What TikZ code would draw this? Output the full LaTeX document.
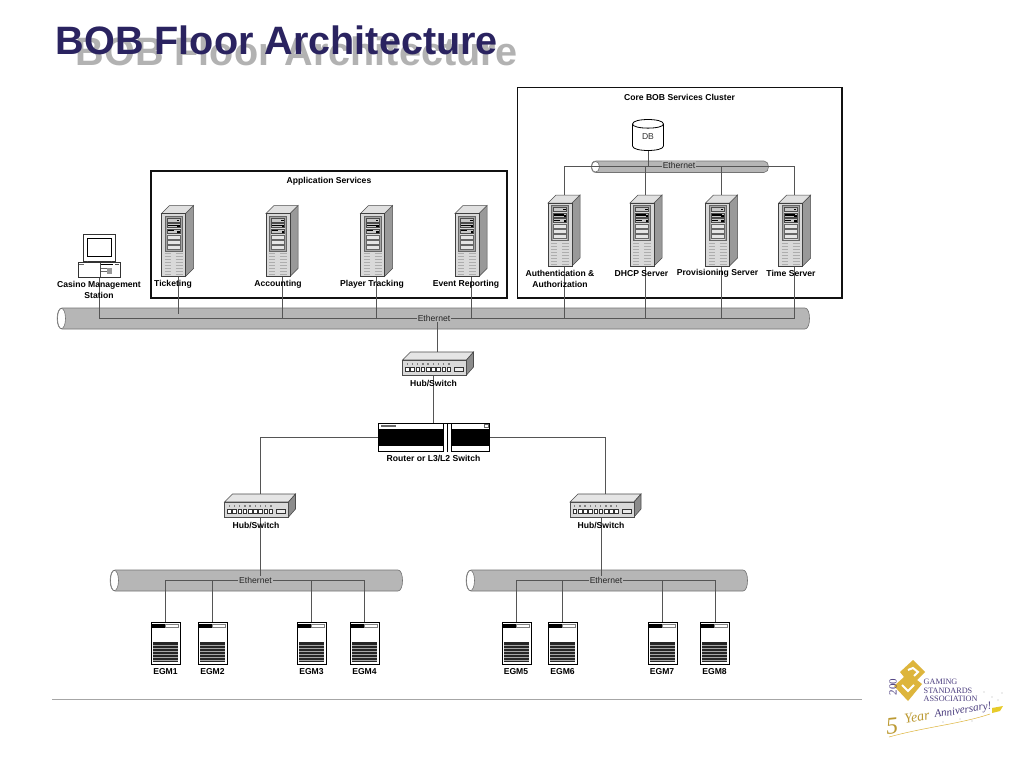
\documentclass[tikz,border=0pt]{standalone}
\usepackage{fontspec}
\setmainfont{Liberation Sans}
\newfontfamily\logoserif{Liberation Serif}
\definecolor{titleblue}{HTML}{2A2360}
\definecolor{titleshade}{HTML}{B2B2B2}
\definecolor{busgray}{HTML}{B6B6B6}
\definecolor{wiregray}{HTML}{555555}
\definecolor{boxline}{HTML}{111111}
\definecolor{logogold}{HTML}{DDB53C}
\definecolor{logopurple}{HTML}{4A3C7E}
\tikzset{
  x=1pt,y=-1pt,
  wire/.style={draw=wiregray,line width=0.7pt},
  clusterbox/.style={draw=boxline,line width=1.6pt,outer sep=0pt},
  lab/.style={font=\fontsize{8.6}{10}\selectfont\bfseries,text=black,inner sep=0pt,align=center},
  ethlab/.style={font=\fontsize{8.6}{10}\selectfont,text=black!85,inner sep=1pt,fill=busgray},
  busbody/.style={draw=black!55,line width=0.6pt,fill=busgray},
  server/.pic={
    \filldraw[draw=black!70,line width=.5pt,fill=black!40] (24,8)--(32,0)--(32,63)--(24,71)--cycle;
    \filldraw[draw=black!70,line width=.5pt,fill=black!12] (0,8)--(8,0)--(32,0)--(24,8)--cycle;
    \filldraw[draw=black!75,line width=.6pt,fill=black!15] (0,8) rectangle (24,71);
    \filldraw[draw=black!60,line width=.5pt,fill=black!35] (3.5,10.5) rectangle (20.5,45.5);
    \fill[white!85!black] (5,12) rectangle (19,44.5);
    \foreach \yy in {12.5,18,23.5}{\filldraw[draw=black!70,line width=.3pt,fill=black!22] (5.5,\yy) rectangle (18.5,\yy+4);}
    \fill[black] (6,19) rectangle (16,20.5);
    \fill[black] (6,24.5) rectangle (12,25.5);
    \fill[black] (15,14) rectangle (17.5,15);
    \fill[black] (15.5,25) rectangle (18,27);
    \fill[black] (15.5,19.5) rectangle (18,21.5);
    \foreach \yy in {29.5,34.5,39.5}{\draw[black!60,line width=.4pt,fill=white!90!black] (5.5,\yy) rectangle (18.5,\yy+3.8);}
    \foreach \yy in {48,51,...,69}{
      \draw[black!32,line width=.4pt] (3,\yy)--(9,\yy);
      \draw[black!32,line width=.4pt] (14,\yy)--(21,\yy);
    }
  },
  hubswitch/.pic={
    \filldraw[draw=black!70,line width=.6pt,fill=black!10] (8,0)--(71,0)--(64,8)--(0,8)--cycle;
    \filldraw[draw=black!70,line width=.6pt,fill=black!45] (64,8)--(71,0)--(71,15)--(64,23)--cycle;
    \filldraw[draw=black!70,line width=.6pt,fill=black!15] (0,8) rectangle (64,23);
    \foreach \i in {0,...,8}{
      \draw[black!80,line width=.6pt,fill=white] (3+\i*5.2,15.5) rectangle (6.6+\i*5.2,19.5);
      \fill[black!50] (4+\i*5.2,11) rectangle (5.4+\i*5.2,12.5);
    }
    \draw[black!80,line width=.5pt,fill=black!8] (52,15.5) rectangle (61,19.5);
  },
  egmbox/.pic={
    \filldraw[draw=black,line width=.9pt,fill=white] (0,0) rectangle (29,42);
    \fill[black] (1,2) rectangle (14.5,5.5);
    \draw[black!50,line width=.4pt] (14.5,2) rectangle (27.5,5.5);
    \fill[black!85] (2,20) rectangle (27,39.5);
    \foreach \yy in {23,26,...,38}{\draw[black!35,line width=.5pt] (2,\yy)--(27,\yy);}
  },
}
\begin{document}
\begin{tikzpicture}
\useasboundingbox (0,0) rectangle (1024,768);
\fill[white] (0,0) rectangle (1024,768);

% title
\node[anchor=base west,inner sep=0pt,font=\fontsize{39.6}{41}\selectfont\bfseries,text=titleshade] (titleshadow) at (75.5,65.5) {BOB Floor Architecture};
\node[anchor=base west,inner sep=0pt,font=\fontsize{39.6}{41}\selectfont\bfseries,text=titleblue] (title) at (55.5,54.5) {BOB Floor Architecture};

% buses
\newcommand{\busdraw}[5]{%
  \draw[busbody] (#2+5,#3) -- (#4-5,#3) .. controls (#4+1,#3) and (#4+1,#5) .. (#4-5,#5) -- (#2+5,#5) .. controls (#2-1.5,#5) and (#2-1.5,#3) .. (#2+5,#3) -- cycle;
  \draw[draw=black!55,line width=.6pt,fill=white] (#2+4.5,#3/2+#5/2) ellipse [x radius=4,y radius={(#5-#3)/2-.4}];
  \coordinate (#1) at (#2/2+#4/2,#3/2+#5/2);
}
\busdraw{mainbus}{57}{308}{810}{329}
\busdraw{corebus}{591}{161}{769}{172.5}
\busdraw{leftbus}{110}{570}{403}{591}
\busdraw{rightbus}{466}{570}{748}{591}

% cluster boxes
\node[clusterbox,anchor=north west,inner sep=0pt,minimum width=356pt,minimum height=127pt] (appbox) at (151,171) {};
\node[clusterbox,anchor=north west,inner sep=0pt,minimum width=324.5pt,minimum height=210.5pt] (corebox) at (517.5,87.5) {};

% device anchors
\coordinate (pc) at (99,277);
\coordinate (ticketing) at (178,277);
\coordinate (accounting) at (282,277);
\coordinate (tracking) at (376.5,277);
\coordinate (reporting) at (471,277);
\coordinate (auth) at (564,266);
\coordinate (dhcp) at (645.7,266);
\coordinate (prov) at (721,266);
\coordinate (timesrv) at (794.7,266);
\coordinate (wireL) at (99,318.5);
\coordinate (wireR) at (794.7,318.5);
\coordinate (coreL) at (564,166.7);
\coordinate (coreR) at (794.7,166.7);
\coordinate (ticketend) at (178,314);
\coordinate (routerleft) at (378,437);
\coordinate (routerright) at (489,437);
\coordinate (routertop) at (433.5,423);
\coordinate (hubtopin) at (437.5,352);
\coordinate (hubout) at (433.5,376);
\coordinate (lefthubtop) at (260,494);
\coordinate (righthubtop) at (605,494);
\coordinate (lefthubout) at (260,517);
\coordinate (righthubout) at (601,517);
\coordinate (dbout) at (648.5,150);
\coordinate (leftrail) at (364,580);
\coordinate (rightrail) at (715,580);
\coordinate (egmtop1) at (165.7,622);
\coordinate (egmtop2) at (212.5,622);
\coordinate (egmtop3) at (311,622);
\coordinate (egmtop4) at (364,622);
\coordinate (egmtop5) at (516,622);
\coordinate (egmtop6) at (562,622);
\coordinate (egmtop7) at (662,622);
\coordinate (egmtop8) at (715,622);
\coordinate (authtop) at (564,195);
\coordinate (dhcptop) at (645.7,195);
\coordinate (provtop) at (721,195);
\coordinate (timetop) at (794.7,195);

% wires
\draw[wire] (wireL) -- (wireR);
\draw[wire] (pc) -- (wireL);
\draw[wire] (ticketing) -- (ticketend);
\draw[wire] (accounting) -- (accounting |- wireL);
\draw[wire] (tracking) -- (tracking |- wireL);
\draw[wire] (reporting) -- (reporting |- wireL);
\draw[wire] (auth) -- (auth |- wireL);
\draw[wire] (dhcp) -- (dhcp |- wireL);
\draw[wire] (prov) -- (prov |- wireL);
\draw[wire] (timesrv) -- (timesrv |- wireL);
\draw[wire] (coreL) -- (coreR);
\draw[wire] (authtop) -- (authtop |- coreL);
\draw[wire] (dhcptop) -- (dhcptop |- coreL);
\draw[wire] (provtop) -- (provtop |- coreL);
\draw[wire] (timetop) -- (timetop |- coreL);
\draw[wire] (dbout) -- (dbout |- coreL);
\draw[wire] (hubtopin) -- (hubtopin |- wireL);
\draw[wire] (hubout) -- (routertop);
\draw[wire] (routerleft) -| (lefthubtop);
\draw[wire] (routerright) -| (righthubtop);
\draw[wire] (lefthubout) -- (lefthubout |- leftbus);
\draw[wire] (righthubout) -- (righthubout |- rightbus);
\draw[wire] (egmtop1) |- (leftrail);
\draw[wire] (egmtop2) -- (egmtop2 |- leftrail);
\draw[wire] (egmtop3) -- (egmtop3 |- leftrail);
\draw[wire] (egmtop4) -- (leftrail);
\draw[wire] (egmtop5) |- (rightrail);
\draw[wire] (egmtop6) -- (egmtop6 |- rightrail);
\draw[wire] (egmtop7) -- (egmtop7 |- rightrail);
\draw[wire] (egmtop8) -- (rightrail);

% ethernet labels
\node[ethlab] (ethmain) at (434,318) {Ethernet};
\node[ethlab] (ethcore) at (679,165.5) {Ethernet};
\node[ethlab] (ethleft) at (255.5,580) {Ethernet};
\node[ethlab] (ethright) at (606,580) {Ethernet};

% servers
\pic (s1) at (161.5,205.5) {server};
\pic (s2) at (266,205.5) {server};
\pic (s3) at (360.5,205.5) {server};
\pic (s4) at (455,205.5) {server};
\pic (s5) at (548,195) {server};
\pic (s6) at (630,195) {server};
\pic (s7) at (705.5,195) {server};
\pic (s8) at (778.7,195) {server};

% PC
\filldraw[draw=black!80,line width=.7pt,fill=white] (83,234.5) rectangle (115,261);
\filldraw[draw=black,line width=1pt,fill=white] (87,238) rectangle (111,256.5);
\draw[black!70,line width=.6pt] (87,261) -- (87,262) -- (111,262) -- (111,261);
\filldraw[draw=black!80,line width=.7pt,fill=white] (78,262) rectangle (120.5,277);
\fill[black!60] (79,263.5) rectangle (84,264.5);
\draw[black!70,line width=.5pt] (100,263) -- (100,276.5);
\fill[black] (100.5,263.5) rectangle (113,265);
\fill[black!70] (115,263.5) rectangle (119,265);
\draw[black!60,line width=.4pt] (101,268) -- (111,268) (101,271) -- (111,271);
\fill[black!40] (107,268) rectangle (112,274);

% DB
\filldraw[draw=black,line width=.8pt,fill=white] (632.5,124) -- (632.5,146) .. controls (632.5,152) and (663.5,152) .. (663.5,146) -- (663.5,124) .. controls (663.5,118) and (632.5,118) .. (632.5,124) -- cycle;
\draw[black,line width=.8pt] (632.5,124) .. controls (632.5,129.5) and (663.5,129.5) .. (663.5,124);
\node[font=\fontsize{8.6}{10}\selectfont,text=black!80,inner sep=0pt] (db) at (648,136.5) {DB};

% switches
\pic (hub0) at (402.5,352) {hubswitch};
\pic (hub1) at (224.5,494) {hubswitch};
\pic (hub2) at (570,494) {hubswitch};

% router
\filldraw[draw=black,line width=.8pt,fill=white] (378.5,423.5) rectangle (489,451.5);
\fill[black] (379,428.5) rectangle (443.5,446);
\fill[black] (451.5,428.5) rectangle (488.5,446);
\fill[white] (443.5,423.5) rectangle (451.5,451.5);
\draw[black,line width=.6pt] (443.5,423.5) -- (443.5,451.5) (447.5,423.5) -- (447.5,451.5) (451.5,423.5) -- (451.5,451.5);
\fill[black!60] (381,425) rectangle (396,426.5);
\draw[black!60,line width=.4pt] (484,424.5) rectangle (488,427.5);

% EGMs
\foreach \nm/\xx in {e1/151,e2/198,e3/297,e4/350,e5/502,e6/548,e7/648,e8/700}{\pic (\nm) at (\xx,622) {egmbox};}

% labels
\node[lab,font=\fontsize{8.6}{11}\selectfont\bfseries] (lpc) at (99,289.5) {Casino Management\\Station};
\node[lab] (l1) at (173,284) {Ticketing};
\node[lab] (l2) at (278,284) {Accounting};
\node[lab] (l3) at (372,284) {Player Tracking};
\node[lab] (l4) at (466,284) {Event Reporting};
\node[lab,font=\fontsize{8.6}{11}\selectfont\bfseries] (l5) at (560,279) {Authentication \&\\Authorization};
\node[lab] (l6) at (641.5,273.5) {DHCP Server};
\node[lab] (l7) at (717.5,273.5) {Provisioning Server};
\node[lab] (l8) at (791,273.5) {Time Server};
\node[lab] (lapp) at (329,181.5) {Application Services};
\node[lab] (lcore) at (679.5,97.5) {Core BOB Services Cluster};
\node[lab] (lhub0) at (433.5,383) {Hub/Switch};
\node[lab] (lrouter) at (433.5,458) {Router or L3/L2 Switch};
\node[lab] (lhub1) at (256,525) {Hub/Switch};
\node[lab] (lhub2) at (601,525) {Hub/Switch};
\foreach \nm/\xx/\tx in {a/165.5/EGM1,b/212.5/EGM2,c/311.5/EGM3,d/364.5/EGM4,f/516/EGM5,g/562.5/EGM6,h/662/EGM7,i/714.5/EGM8}{\node[lab] (lab\nm) at (\xx,671.5) {\tx};}

% footer rule
\draw[black!35,line width=.8pt] (52,699) -- (862,699);

% logo
\fill[logogold] (913,660) -- (925,672) -- (917,680) -- (922,684) -- (908,701) -- (894,686) -- (904,677) -- (900,672) -- cycle;
\draw[white,line width=2pt] (908,670) -- (913,668) -- (918,672) -- (914,676);
\draw[white,line width=2pt] (902,685) -- (908,691) -- (914,685);
\node[font=\fontsize{11}{11}\selectfont\logoserif,text=logopurple,rotate=90,inner sep=0pt] (logoyear) at (893,687) {200};
\node[anchor=west,font=\fontsize{8.2}{8.7}\selectfont\logoserif,text=logopurple,inner sep=0pt,align=left] (logotext) at (923.5,690.5) {GAMING\\STANDARDS\\ASSOCIATION};
\draw[logogold,line width=.5pt] (889,737) .. controls (925,727) and (960,724) .. (990,714);
\node[font=\fontsize{24}{24}\selectfont\logoserif\itshape,text=logogold!85!black,rotate=6,inner sep=0pt] (logofive) at (892,726) {5};
\node[font=\fontsize{14}{14}\selectfont\logoserif\itshape,text=logogold!85!black,rotate=10,inner sep=0pt] (logoyr) at (917,717) {Year};
\node[font=\fontsize{11}{11}\selectfont\logoserif\itshape,text=logopurple,rotate=9,inner sep=0pt] (logoann) at (963,711) {Anniversary!};
\fill[logogold!70!yellow] (992,708) -- (1003,706) -- (1000,711) -- (992,713) -- cycle;
\foreach \dx/\dy in {984/692,992/697,998/700,960/719,972/721,943/722,1002/693}{\fill[black!30] (\dx,\dy) circle (.6);}
\end{tikzpicture}
\end{document}
